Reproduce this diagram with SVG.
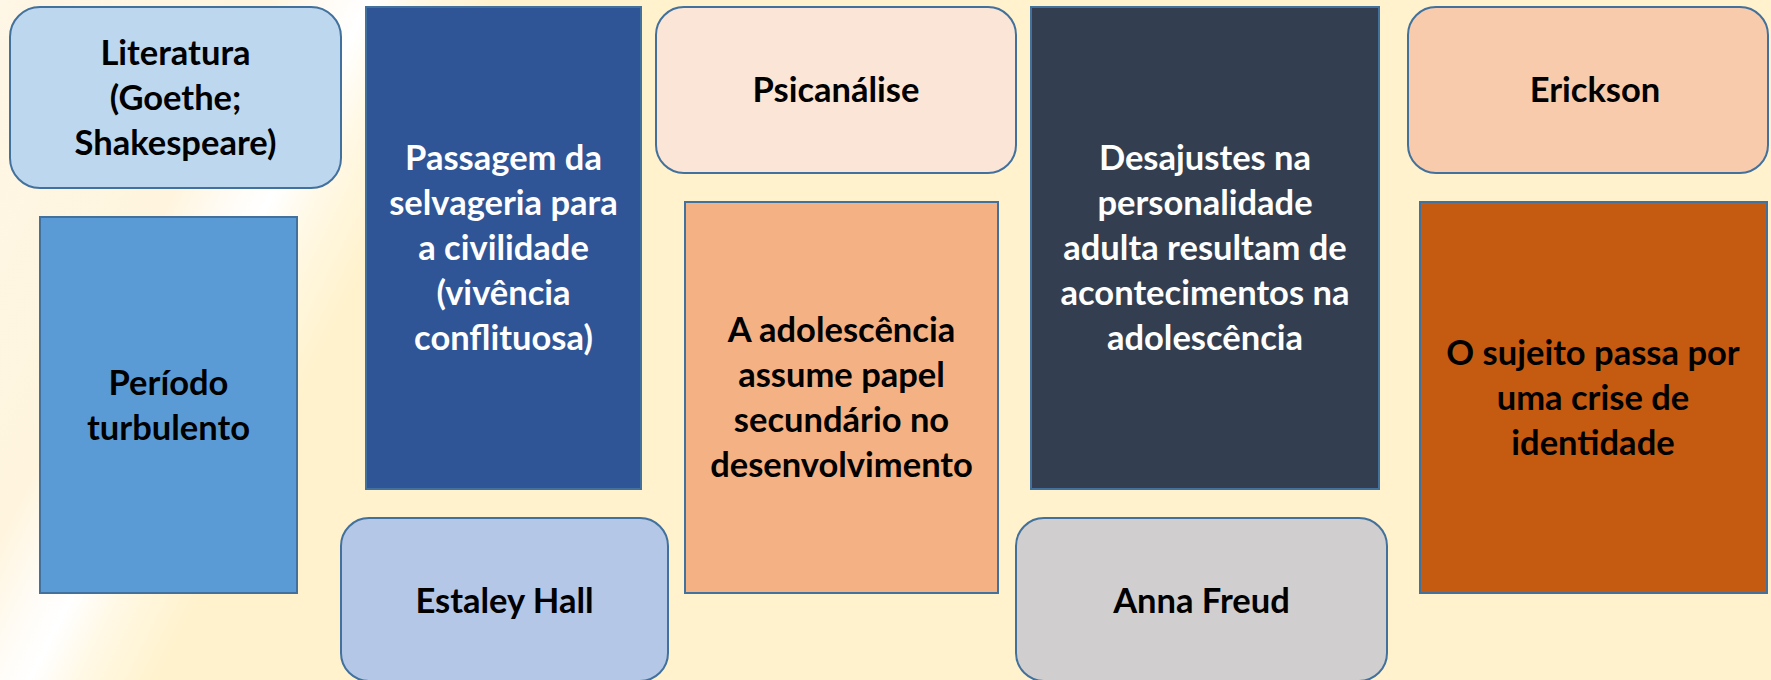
<svg xmlns="http://www.w3.org/2000/svg" width="1771" height="680" viewBox="0 0 1771 680">
<defs>
<linearGradient id="bg" gradientUnits="userSpaceOnUse" x1="0" y1="0" x2="715.8" y2="357.9">
<stop offset="0" stop-color="#FEF6E6"/>
<stop offset="0.30" stop-color="#FFF5DE"/>
<stop offset="0.37" stop-color="#FFFCF6"/>
<stop offset="0.414" stop-color="#FFFFFF"/>
<stop offset="0.47" stop-color="#FFF8E4"/>
<stop offset="0.56" stop-color="#FFF2CC"/>
<stop offset="1" stop-color="#FFF2CC"/>
</linearGradient>
</defs>
<style>
.box{stroke:#41719C;stroke-width:2}
.t{font-family:Lato,"Liberation Sans",sans-serif;font-weight:bold;font-size:34.5px;text-anchor:middle;fill:#000}
.w{fill:#FFF}
</style>
<rect x="0" y="0" width="1771" height="680" fill="url(#bg)"/>
<g id="connectors"></g>
<g id="literatura">
<rect class="box" x="10" y="7" width="331" height="181" rx="30" fill="#BDD7EE"/>
<text class="t"><tspan x="175.5" y="65">Literatura</tspan><tspan x="175.5" y="110">(Goethe;</tspan><tspan x="175.5" y="155">Shakespeare)</tspan></text>
</g>
<g id="periodo">
<rect class="box" x="40" y="217" width="257" height="376" fill="#5B9BD5"/>
<text class="t"><tspan x="168.5" y="395">Período</tspan><tspan x="168.5" y="440">turbulento</tspan></text>
</g>
<g id="passagem">
<rect class="box" x="366" y="7" width="275" height="482" fill="#2F5597"/>
<text class="t w"><tspan x="503.5" y="170">Passagem da</tspan><tspan x="503.5" y="215">selvageria para</tspan><tspan x="503.5" y="260">a civilidade</tspan><tspan x="503.5" y="305">(vivência</tspan><tspan x="503.5" y="350">conflituosa)</tspan></text>
</g>
<g id="estaley">
<rect class="box" x="341" y="518" width="327" height="163" rx="28" fill="#B4C7E7"/>
<text class="t" x="504.5" y="613">Estaley Hall</text>
</g>
<g id="psicanalise">
<rect class="box" x="656" y="7" width="360" height="166" rx="28" fill="#FBE5D6"/>
<text class="t" x="836" y="102">Psicanálise</text>
</g>
<g id="adolescencia">
<rect class="box" x="685" y="202" width="313" height="391" fill="#F4B183"/>
<text class="t"><tspan x="841.5" y="342">A adolescência</tspan><tspan x="841.5" y="387">assume papel</tspan><tspan x="841.5" y="432">secundário no</tspan><tspan x="841.5" y="477">desenvolvimento</tspan></text>
</g>
<g id="desajustes">
<rect class="box" x="1031" y="7" width="348" height="482" fill="#333F50"/>
<text class="t w"><tspan x="1205" y="170">Desajustes na</tspan><tspan x="1205" y="215">personalidade</tspan><tspan x="1205" y="260">adulta resultam de</tspan><tspan x="1205" y="305">acontecimentos na</tspan><tspan x="1205" y="350">adolescência</tspan></text>
</g>
<g id="anna">
<rect class="box" x="1016" y="518" width="371" height="163" rx="28" fill="#D0CECE"/>
<text class="t" x="1201.5" y="613">Anna Freud</text>
</g>
<g id="erickson">
<rect class="box" x="1408" y="7" width="360" height="166" rx="28" fill="#F8CBAD"/>
<text class="t" x="1595" y="102">Erickson</text>
</g>
<g id="sujeito">
<rect class="box" x="1420" y="202" width="347" height="391" fill="#C55A11"/>
<text class="t"><tspan x="1593" y="365">O sujeito passa por</tspan><tspan x="1593" y="410">uma crise de</tspan><tspan x="1593" y="455">identidade</tspan></text>
</g>
</svg>
